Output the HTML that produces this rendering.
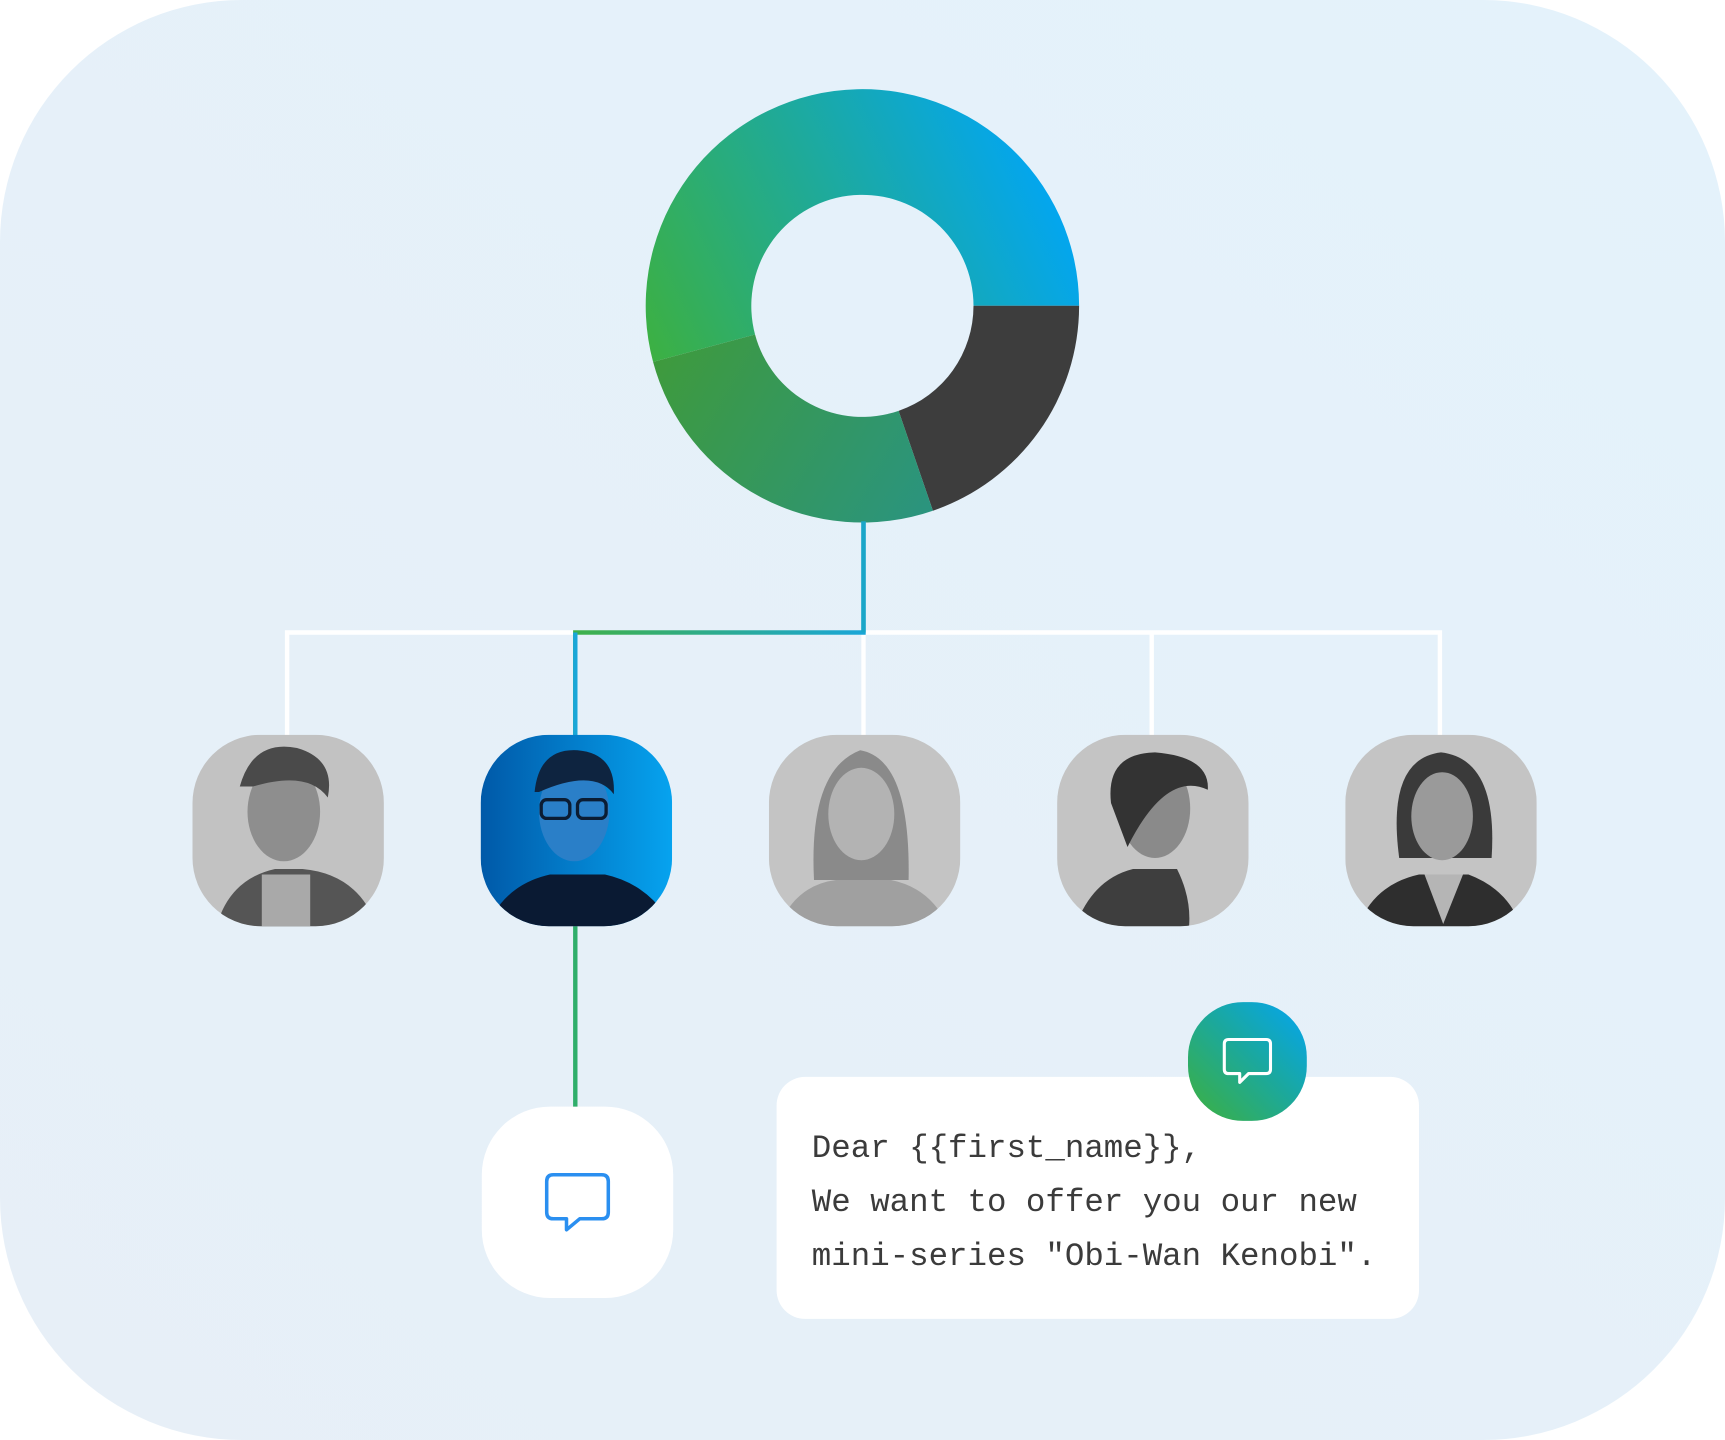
<!DOCTYPE html>
<html><head><meta charset="utf-8"><style>
html,body{margin:0;padding:0;background:#fff;}
svg{display:block;}
</style></head><body>
<svg width="1725" height="1440" viewBox="0 0 1568.18 1309.09" xmlns="http://www.w3.org/2000/svg">
<defs>
<linearGradient id="bg" x1="0" y1="1" x2="1" y2="0"><stop offset="0" stop-color="#e7eff7"/><stop offset="1" stop-color="#e4f2fb"/></linearGradient>
<linearGradient id="dg" gradientUnits="userSpaceOnUse" x1="600" y1="340" x2="960" y2="170"><stop offset="0" stop-color="#3cb043"/><stop offset="0.5" stop-color="#1faa98"/><stop offset="1" stop-color="#02a6f2"/></linearGradient>
<linearGradient id="dg2" gradientUnits="userSpaceOnUse" x1="600" y1="330" x2="850" y2="470"><stop offset="0" stop-color="#3e9a3e"/><stop offset="1" stop-color="#2a9480"/></linearGradient>
<linearGradient id="bt" x1="0" y1="1" x2="1" y2="0"><stop offset="0" stop-color="#3eb03c"/><stop offset="0.55" stop-color="#1aa8a0"/><stop offset="1" stop-color="#03a5f3"/></linearGradient>
<linearGradient id="av" x1="0" y1="0" x2="1" y2="0"><stop offset="0" stop-color="#0059a8"/><stop offset="1" stop-color="#06a3ef"/></linearGradient>
<linearGradient id="ln" x1="0" y1="0" x2="1" y2="0"><stop offset="0" stop-color="#3fb04a"/><stop offset="1" stop-color="#1aa6d8"/></linearGradient>
<clipPath id="c0"><rect x="175" y="668" width="174" height="174" rx="62"/></clipPath>
<clipPath id="c1"><rect x="437" y="668" width="174" height="174" rx="62"/></clipPath>
<clipPath id="c2"><rect x="699" y="668" width="174" height="174" rx="62"/></clipPath>
<clipPath id="c3"><rect x="961" y="668" width="174" height="174" rx="62"/></clipPath>
<clipPath id="c4"><rect x="1223" y="668" width="174" height="174" rx="62"/></clipPath>
</defs>
<rect x="0" y="0" width="1568.18" height="1309.09" rx="220" fill="url(#bg)"/>

<!-- donut -->
<path d="M981 278 A197 197 0 1 0 593.7 329 L686.4 304.1 A101 101 0 1 1 885 278 Z" fill="url(#dg)"/>
<path d="M981 278 A197 197 0 0 1 848.1 464.3 L816.9 373.5 A101 101 0 0 0 885 278 Z" fill="#3d3d3d"/>
<path d="M848.1 464.3 A197 197 0 0 1 593.7 329 L686.4 304.1 A101 101 0 0 0 816.9 373.5 Z" fill="url(#dg2)"/>

<!-- tree lines -->
<g stroke="#ffffff" stroke-width="4" fill="none">
<path d="M261 670 V575 H1309 V670"/>
<path d="M785 575 V670 M1047 575 V670"/>
</g>
<path d="M785 474 V575 H523 V670" stroke="url(#ln)" stroke-width="4" fill="none"/>
<path d="M785 474 V575" stroke="#1aa6c8" stroke-width="4"/>
<path d="M523 575 V670" stroke="#1aa6d8" stroke-width="4"/>
<path d="M523 842 V1008" stroke="#2fae6a" stroke-width="4"/>

<!-- avatars -->
<g clip-path="url(#c0)"><rect x="175" y="668" width="174" height="174" fill="#c2c2c2"/>
<path d="M195 850 Q205 800 250 790 L275 790 Q330 795 345 850 Z" fill="#555"/><rect x="238" y="795" width="44" height="50" fill="#a9a9a9"/>
<ellipse cx="258" cy="738" rx="33" ry="45" fill="#8e8e8e"/><path d="M218 715 Q230 672 270 680 Q305 690 298 725 Q280 700 230 715 Z" fill="#4a4a4a"/></g>
<g clip-path="url(#c1)"><rect x="437" y="668" width="174" height="174" fill="url(#av)"/>
<path d="M440 850 Q455 805 500 795 L550 795 Q595 805 615 850 Z" fill="#0a1a33"/>
<ellipse cx="522" cy="738" rx="32" ry="45" fill="#2a7fc8"/><path d="M486 720 Q490 680 525 682 Q560 685 558 722 Q540 698 490 720 Z" fill="#0e2440"/>
<rect x="492" y="727" width="26" height="17" rx="5" fill="none" stroke="#0b1c33" stroke-width="3"/><rect x="525" y="727" width="26" height="17" rx="5" fill="none" stroke="#0b1c33" stroke-width="3"/></g>
<g clip-path="url(#c2)"><rect x="699" y="668" width="174" height="174" fill="#c4c4c4"/>
<path d="M705 850 Q720 805 760 800 L810 800 Q850 808 865 850 Z" fill="#a0a0a0"/>
<path d="M740 800 Q735 700 782 682 Q828 690 826 800 Z" fill="#8a8a8a"/>
<ellipse cx="783" cy="740" rx="30" ry="42" fill="#b3b3b3"/></g>
<g clip-path="url(#c3)"><rect x="961" y="668" width="174" height="174" fill="#c4c4c4"/>
<path d="M975 850 Q990 800 1030 790 L1070 790 Q1085 820 1080 850 Z" fill="#3e3e3e"/>
<ellipse cx="1050" cy="735" rx="32" ry="45" fill="#8a8a8a"/><path d="M1010 730 Q1005 685 1050 684 Q1100 688 1098 718 Q1060 700 1025 770 Z" fill="#333"/></g>
<g clip-path="url(#c4)"><rect x="1223" y="668" width="174" height="174" fill="#c4c4c4"/>
<path d="M1232 850 Q1245 805 1290 795 L1335 795 Q1375 810 1385 850 Z" fill="#2e2e2e"/><path d="M1295 795 L1312 840 L1330 795 Z" fill="#b5b5b5"/>
<path d="M1272 780 Q1260 690 1310 684 Q1362 690 1356 780 Z" fill="#3a3a3a"/>
<ellipse cx="1311" cy="742" rx="28" ry="40" fill="#9a9a9a"/></g>

<!-- white message box -->
<rect x="438" y="1006" width="174" height="174" rx="62" fill="#ffffff"/>
<path d="M503 1068 H547 Q553 1068 553 1074 V1102 Q553 1108 547 1108 H527 L515 1118 V1108 H503 Q497 1108 497 1102 V1074 Q497 1068 503 1068 Z" fill="none" stroke="#2a8ff0" stroke-width="3.2" stroke-linejoin="round"/>

<!-- text card -->
<rect x="706" y="979" width="584" height="220" rx="26" fill="#ffffff"/>
<g font-family="'Liberation Mono', monospace" font-size="29.5" fill="#3b3b3b">
<text x="738" y="1052">Dear {{first_name}},</text>
<text x="738" y="1101">We want to offer you our new</text>
<text x="738" y="1150">mini-series "Obi-Wan Kenobi".</text>
</g>

<!-- gradient button -->
<rect x="1080" y="911" width="108" height="108" rx="50" fill="url(#bt)"/>
<path d="M1117 945 H1151 Q1155 945 1155 949 V972 Q1155 976 1151 976 H1135 L1127 984 V976 H1117 Q1113 976 1113 972 V949 Q1113 945 1117 945 Z" fill="none" stroke="#ffffff" stroke-width="2.8" stroke-linejoin="round"/>
</svg>
</body></html>
